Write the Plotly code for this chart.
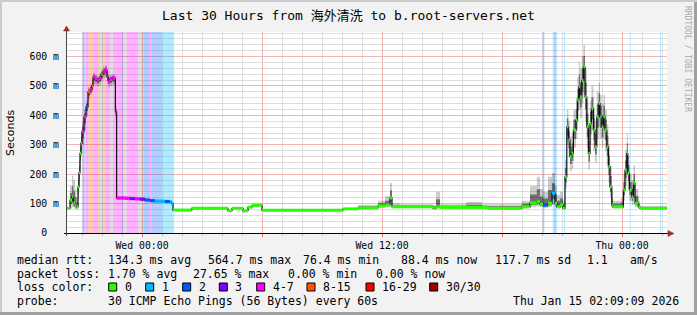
import math
import plotly.graph_objects as go

# ---------------- canvas geometry ----------------
W, H = 697, 315
ML, MR, MT, MB = 67, 30, 32, 82
PW = W - ML - MR
PH = H - MT - MB

# ---------------- data ----------------
# time in hours relative to Wed 00:00
t_hours = [-3.75, -3.6, -3.5, -3.43, -3.35, -3.28, -3.2, -3.15, -3.1, -3.05,
           -3.0, -2.9, -2.8, -2.7, -2.6, -2.5, -2.45, -2.35, -2.25, -2.15,
           -2.05, -1.95, -1.85, -1.75, -1.68, -1.6, -1.5, -1.4, -1.33, -1.27,
           -0.85, -0.6, -0.35, -0.1, 0.15, 0.4, 0.65, 0.9, 1.15, 1.4,
           1.49, 1.55, 2.49, 4.3, 4.5, 5.05, 5.2, 5.3, 5.5, 6.0,
           10.05, 10.8, 11.8, 12.15, 12.4, 12.5, 12.9, 14.55, 14.7, 14.9,
           16.2, 17.0, 17.3, 18.99, 19.4, 19.74, 19.9, 20.05, 20.3, 20.5,
           20.65, 20.75, 20.9, 21.05, 21.15, 21.24, 21.32, 21.4, 21.49, 21.57,
           21.7, 21.77, 21.84, 21.9, 21.99, 22.07, 22.15, 22.24, 22.32, 22.4,
           22.47, 22.57, 22.65, 22.74, 22.84, 22.9, 22.99, 23.07, 23.15, 23.24,
           23.32, 23.4, 23.49, 23.55, 23.95, 24.07, 24.15, 24.24, 24.29, 24.37,
           24.49, 24.57, 24.65, 24.82, 24.9, 26.25]

median_ms = [84, 112, 123, 102, 95, 89, 157, 204, 271, 305,
             344, 395, 429, 480, 487, 500, 530, 525, 520, 525,
             540, 548, 555, 530, 518, 522, 527, 525, 412, 119,
             118, 117, 116, 115, 112, 110, 108, 108, 107, 105,
             100, 78, 84, 76, 84, 75, 76, 88, 94, 77,
             82, 85, 92, 95, 119, 89, 89, 84, 89, 87,
             87, 87, 84, 89, 102, 106, 98, 95, 101, 135,
             101, 89, 95, 84, 191, 361, 316, 259, 270, 350,
             384, 451, 497, 463, 519, 565, 463, 361, 270, 372,
             423, 350, 293, 395, 440, 395, 361, 395, 350, 293,
             225, 157, 95, 89, 89, 146, 214, 270, 203, 146,
             123, 169, 101, 89, 84, 84]

smoke_lo_ms = [80, 85, 88, 84, 82, 80, 110, 160, 220, 260,
               300, 350, 400, 455, 470, 480, 505, 505, 500, 505,
               515, 525, 530, 505, 495, 500, 505, 500, 390, 112,
               112, 111, 110, 108, 106, 104, 103, 103, 102, 100,
               95, 76, 81, 74, 81, 73, 74, 84, 90, 75,
               79, 82, 86, 88, 95, 85, 85, 80, 84, 84,
               84, 84, 81, 85, 88, 90, 88, 86, 88, 95,
               88, 84, 86, 80, 150, 300, 260, 210, 220, 290,
               320, 380, 420, 390, 440, 470, 380, 290, 215, 300,
               350, 280, 240, 320, 360, 320, 290, 320, 280, 230,
               170, 120, 85, 84, 84, 110, 160, 210, 150, 110,
               95, 120, 88, 84, 81, 81]

smoke_hi_ms = [88, 160, 195, 180, 150, 120, 210, 250, 310, 350,
               380, 420, 450, 495, 505, 520, 545, 540, 535, 540,
               555, 565, 570, 548, 535, 538, 540, 540, 430, 126,
               125, 124, 123, 122, 118, 116, 114, 114, 113, 111,
               106, 81, 87, 79, 87, 78, 79, 92, 98, 80,
               85, 95, 110, 125, 170, 100, 98, 95, 140, 98,
               105, 98, 98, 110, 160, 191, 150, 140, 191, 204,
               160, 130, 140, 110, 250, 420, 380, 330, 340, 420,
               460, 530, 580, 560, 600, 640, 560, 450, 350, 450,
               500, 430, 380, 480, 510, 470, 440, 470, 420, 370,
               300, 230, 140, 110, 120, 200, 280, 340, 260, 200,
               180, 230, 150, 110, 92, 88]

# loss category index of each sample (0 = "0", 1 = "1", ... 7 = "30/30")
loss_idx = [0, 0, 0, 0, 0, 0, 0, 0, 0, 0,
            4, 4, 2, 5, 4, 5, 4, 4, 4, 4,
            5, 4, 4, 4, 4, 4, 4, 4, 4, 4,
            4, 3, 4, 3, 2, 2, 1, 1, 2, 1,
            1, 0, 0, 0, 0, 0, 0, 0, 0, 0,
            0, 0, 0, 0, 0, 0, 0, 0, 0, 0,
            0, 0, 0, 0, 0, 0, 0, 2, 0, 1,
            0, 0, 0, 0, 0, 0, 0, 0, 0, 0,
            0, 0, 0, 0, 0, 0, 0, 0, 0, 0,
            0, 0, 0, 0, 0, 1, 0, 0, 0, 0,
            0, 0, 0, 0, 0, 0, 0, 0, 0, 0,
            0, 0, 0, 0, 0, 0]

# packet-loss background bands (hours relative to Wed 00:00)
band_start = [-2.97, -2.88, -2.80, -2.68, -2.45, -2.20, -2.10, -1.95, -1.83, -1.60,
              -1.45, -1.02, -0.95, -0.77, -0.19, 0.07, 0.40, 0.50, 0.99,
              20.035, 20.535, 20.61, 20.685, 21.10, 22.85, 24.385, 25.90]
band_end = [-2.88, -2.80, -2.68, -2.45, -2.20, -2.10, -1.95, -1.83, -1.60, -1.45,
            -1.02, -0.95, -0.77, -0.19, 0.07, 0.40, 0.50, 0.99, 1.60,
            20.115, 20.61, 20.685, 20.75, 21.15, 22.90, 24.435, 25.95]
band_level = [3, 1, 4, 5, 4, 5, 8, 5, 4, 8,
              4, 3, 8, 4, 8, 2, 4, 2, 1,
              2, 1, 2, 1, 1, 1, 1, 1]

loss_labels = ["0", "1", "2", "3", "4-7", "8-15", "16-29", "30/30"]
loss_colors = ["#26ff00", "#00b8ff", "#0059ff", "#7e00ff",
               "#ff00ff", "#ff5500", "#ff0000", "#a10000"]
band_colors = ["rgba(38,255,0,0.3)", "rgba(0,184,255,0.3)", "rgba(0,89,255,0.3)",
               "rgba(126,0,255,0.3)", "rgba(255,0,255,0.3)", "rgba(255,85,0,0.3)",
               "rgba(255,0,0,0.3)", "rgba(161,0,0,0.3)", "rgba(0,0,0,0.12)"]

x_tick_vals = [0, 6, 12, 18, 24]
x_tick_text = ["Wed 00:00", "", "Wed 12:00", "", "Thu 00:00"]
x_minor_step = 1
y_tick_vals = [0, 100, 200, 300, 400, 500, 600]
y_tick_text = ["0\u00a0\u00a0", "100 m", "200 m", "300 m", "400 m", "500 m", "600 m"]
y_minor_step = 20

X_RANGE = [-3.75, 26.25]
Y_RANGE = [0, 683.4]

title_text = "Last 30 Hours from 海外清洗 to b.root-servers.net"
stats_rtt = [("median rtt:", 16), ("134.3 ms avg", 107.3), ("564.7 ms max", 207.3),
             ("76.4 ms min", 301.7), ("88.4 ms now", 400.3), ("117.7 ms sd", 493.7),
             ("1.1", 586), ("am/s", 628.7)]
stats_loss = [("packet loss:", 16), ("1.70 % avg", 107.3), ("27.65 % max", 191.5),
              ("0.00 % min", 286.5), ("0.00 % now", 375)]
legend_box_x = [108.7, 145.7, 182.7, 219.3, 256.7, 307, 366, 429.7]
probe_text = "30 ICMP Echo Pings (56 Bytes) every 60s"
date_text = "Thu Jan 15 02:09:09 2026"

MONO = "DejaVu Sans Mono, Noto Sans CJK SC, monospace"


def px(x):
    return (x - ML) / PW


def py(y):
    return (H - MB - y) / PH


def xpix(h):
    return ML + (h - X_RANGE[0]) / (X_RANGE[1] - X_RANGE[0]) * PW


def ypix(v):
    return (H - MB) - (v - Y_RANGE[0]) / (Y_RANGE[1] - Y_RANGE[0]) * PH


fig = go.Figure()

# loss background bands
fig.add_trace(go.Bar(
    x=[(s + e) / 2 for s, e in zip(band_start, band_end)],
    y=[Y_RANGE[1]] * len(band_start),
    width=[e - s for s, e in zip(band_start, band_end)],
    marker=dict(color=[band_colors[l] for l in band_level], line=dict(width=0)),
    hoverinfo="skip", showlegend=False))

# smoke (outer)
fig.add_trace(go.Scatter(x=t_hours, y=smoke_lo_ms, mode="lines",
                         line=dict(width=0, shape="hv"), hoverinfo="skip", showlegend=False))
fig.add_trace(go.Scatter(x=t_hours, y=smoke_hi_ms, mode="lines", fill="tonexty",
                         fillcolor="rgba(0,0,0,0.2)",
                         line=dict(width=0, shape="hv"), hoverinfo="skip", showlegend=False))
# smoke (inner, denser)
inner_lo = [(l + m) / 2 for l, m in zip(smoke_lo_ms, median_ms)]
inner_hi = [(h + m) / 2 for h, m in zip(smoke_hi_ms, median_ms)]
fig.add_trace(go.Scatter(x=t_hours, y=inner_lo, mode="lines",
                         line=dict(width=0, shape="hv"), hoverinfo="skip", showlegend=False))
fig.add_trace(go.Scatter(x=t_hours, y=inner_hi, mode="lines", fill="tonexty",
                         fillcolor="rgba(0,0,0,0.45)",
                         line=dict(width=0, shape="hv"), hoverinfo="skip", showlegend=False))

# median step line (black connections)
fig.add_trace(go.Scatter(x=t_hours, y=median_ms, mode="lines",
                         line=dict(color="#111111", width=1.2, shape="hv"),
                         hoverinfo="skip", showlegend=False))

# coloured median segments by loss
for lvl, col in enumerate(loss_colors):
    xs, ys = [], []
    for i in range(len(t_hours) - 1):
        if loss_idx[i] == lvl:
            xs += [t_hours[i], t_hours[i + 1], None]
            ys += [median_ms[i], median_ms[i], None]
    if xs:
        fig.add_trace(go.Scatter(x=xs, y=ys, mode="lines",
                                 line=dict(color=col, width=3),
                                 hoverinfo="skip", showlegend=False))

annotations = []
shapes = []


def txt(x, y, s, size=11.5, anchor="left", family=MONO, color="#000000", angle=0):
    annotations.append(dict(xref="paper", yref="paper", x=px(x), y=py(y), text=s,
                            showarrow=False, xanchor=anchor, yanchor="middle",
                            textangle=angle, borderpad=0,
                            font=dict(family=family, size=size, color=color)))


# white canvas of the plot area
shapes.append(dict(type="rect", xref="paper", yref="paper", layer="below",
                   x0=0, x1=1, y0=0, y1=1, fillcolor="#ffffff", line=dict(width=0)))

# ---- grid (pixel-snapped), below traces ----
MAJOR_V = "#f0b4b4"
MAJOR_H = "#f0b4b4"
MINOR_V = "#dedede"
MINOR_H = "#dedede"


def vgrid(h, color):
    x = math.floor(xpix(h)) + 0.5
    shapes.append(dict(type="line", xref="paper", yref="paper", layer="below",
                       x0=px(x), x1=px(x), y0=py(H - MB), y1=py(MT),
                       line=dict(color=color, width=1)))


def hgrid(v, color):
    y = math.floor(ypix(v)) + 0.5
    shapes.append(dict(type="line", xref="paper", yref="paper", layer="below",
                       x0=px(ML), x1=px(ML + PW), y0=py(y), y1=py(y),
                       line=dict(color=color, width=1)))


h = math.ceil(X_RANGE[0])
while h <= X_RANGE[1]:
    if h not in x_tick_vals:
        vgrid(h, MINOR_V)
    h += x_minor_step
v = y_minor_step
while v <= Y_RANGE[1]:
    if v not in y_tick_vals:
        hgrid(v, MINOR_H)
    v += y_minor_step
for h in x_tick_vals:
    vgrid(h, MAJOR_V)
for v in y_tick_vals[1:]:
    hgrid(v, MAJOR_H)

txt(348, 15, title_text, size=13, anchor="center")
txt(10, 133, "Seconds", size=11, anchor="center", family="DejaVu Sans", angle=-90)
txt(688, 59, "RRDTOOL / TOBI OETIKER", size=8, anchor="center", color="#a8a8a8", angle=90)

for s, x in stats_rtt:
    txt(x, 259.7, s)
for s, x in stats_loss:
    txt(x, 273.7, s)
txt(16, 287.3, "loss color:")
for lab, col, bx in zip(loss_labels, loss_colors, legend_box_x):
    shapes.append(dict(type="rect", xref="paper", yref="paper",
                       x0=px(bx), x1=px(bx + 8), y0=py(291), y1=py(283),
                       fillcolor=col, line=dict(color="#000000", width=1)))
    txt(bx + 15, 287.3, lab)
txt(16, 300.7, "probe:")
txt(107.3, 300.7, probe_text)
txt(680, 300.7, date_text, anchor="right")

# axis lines with arrows
shapes.append(dict(type="line", xref="paper", yref="paper",
                   x0=px(64), x1=px(668), y0=py(233.5), y1=py(233.5),
                   line=dict(color="#000000", width=1)))
shapes.append(dict(type="path", xref="paper", yref="paper",
                   path=f"M {px(668)} {py(230.5)} L {px(674)} {py(233.5)} L {px(668)} {py(236.5)} Z",
                   fillcolor="#9b2d2d", line=dict(color="#9b2d2d", width=0.5)))
shapes.append(dict(type="line", xref="paper", yref="paper",
                   x0=px(66.5), x1=px(66.5), y0=py(236), y1=py(31),
                   line=dict(color="#444444", width=1)))
shapes.append(dict(type="path", xref="paper", yref="paper",
                   path=f"M {px(63.5)} {py(31)} L {px(66.5)} {py(26)} L {px(69.5)} {py(31)} Z",
                   fillcolor="#9b2d2d", line=dict(color="#9b2d2d", width=0.5)))
# frame
shapes.append(dict(type="rect", xref="paper", yref="paper",
                   x0=px(0), x1=px(697), y0=py(315), y1=py(312),
                   fillcolor="#a0a0a0", line=dict(width=0)))
shapes.append(dict(type="rect", xref="paper", yref="paper",
                   x0=px(694), x1=px(697), y0=py(315), y1=py(0),
                   fillcolor="#a0a0a0", line=dict(width=0)))
shapes.append(dict(type="rect", xref="paper", yref="paper",
                   x0=px(0), x1=px(697), y0=py(2), y1=py(0),
                   fillcolor="#cbcbcb", line=dict(width=0)))
shapes.append(dict(type="rect", xref="paper", yref="paper",
                   x0=px(0), x1=px(2), y0=py(312), y1=py(0),
                   fillcolor="#cbcbcb", line=dict(width=0)))

TICKFONT = dict(family=MONO, size=9.8, color="#000000")

fig.update_layout(
    width=W, height=H, autosize=False,
    margin=dict(l=ML, r=MR, t=MT, b=MB, pad=0),
    paper_bgcolor="#f2f2f2", plot_bgcolor="rgba(0,0,0,0)",
    showlegend=False, barmode="overlay",
    annotations=annotations, shapes=shapes,
    xaxis=dict(range=X_RANGE, tickmode="array", tickvals=x_tick_vals, ticktext=x_tick_text,
               showgrid=False, ticks="outside", ticklen=3, tickcolor="#e07070",
               minor=dict(tickmode="linear", tick0=0, dtick=x_minor_step, showgrid=False,
                          ticks="outside", ticklen=2, tickcolor="#bbbbbb"),
               zeroline=False, showline=False, tickfont=TICKFONT, automargin=False,
               fixedrange=True),
    yaxis=dict(range=Y_RANGE, tickmode="array", tickvals=y_tick_vals, ticktext=y_tick_text,
               showgrid=False, ticks="", ticklabelstandoff=7,
               zeroline=False, showline=False, tickfont=TICKFONT, automargin=False,
               fixedrange=True),
)

fig.write_html("out.html")
